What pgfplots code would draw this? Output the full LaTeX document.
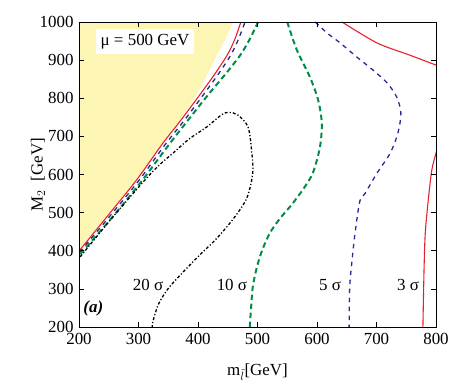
\documentclass[border=0pt]{standalone}
\usepackage{pgfplots}
\pgfplotsset{compat=1.18}
\usepackage{fontspec}
\setmainfont{Liberation Serif}
\definecolor{fillyel}{RGB}{252,245,180}
\definecolor{cred}{RGB}{232,32,45}
\definecolor{cblue}{RGB}{40,40,150}
\definecolor{cgreen}{RGB}{0,140,70}
\begin{document}
\begin{tikzpicture}
\begin{axis}[
  scale only axis,
  width=357bp, height=305bp,
  xmin=200, xmax=800, ymin=200, ymax=1000,
  xtick={200,300,...,800}, ytick={200,300,...,1000},
  tick align=inside, major tick length=5bp,
  axis on top,
  axis line style={line width=0.6pt},
  tick style={line width=0.6pt, black},
  /pgf/number format/assume math mode=true,
  /pgf/number format/1000 sep={},
  ticklabel style={font=\fontsize{17}{19}\selectfont},
  xticklabel style={yshift=-3bp},
  yticklabel style={xshift=-2bp},
  xlabel={m$_{\tilde{l}}$[GeV]},
  ylabel={M$_2$\ \ [GeV]},
  label style={font=\fontsize{17}{19}\selectfont},
  xlabel style={at={(axis description cs:0.5,0)}, anchor=center, yshift=-45bp},
  ylabel style={at={(axis description cs:0,0.5)}, anchor=center, yshift=41bp},
]
% excluded region
\addplot[draw=none, fill=fillyel] coordinates {(200,1000) (200,402) (250,497) (296,584) (338,678) (366,735) (398,809) (418,870) (432,913) (447,958) (459,1000) (200,1000)};

% 3 sigma (red solid)
\addplot[cred, line width=1.1pt, smooth, tension=0.5] coordinates {(200,399) (250,495) (297,586) (340,680) (370,740) (403,809) (428,863) (449,913) (462,955) (472,1000)};
\addplot[cred, line width=1.1pt, smooth, tension=0.5] coordinates {(642,1000) (701,945) (756,913) (805,884)};
\addplot[cred, line width=1.1pt, smooth, tension=0.5] coordinates {(806,690) (800,656) (793,612) (787,533) (782,447) (780,357) (778,200)};

% 5 sigma (blue dashed)
\addplot[cblue, line width=1.3pt, dash pattern=on 4.5bp off 4.5bp, smooth, tension=0.5] coordinates {(201,396) (253,493) (301,585) (345,679) (376,740) (409,809) (434,863) (455,913) (468,955) (479,1000)};
\addplot[cblue, line width=1.3pt, dash pattern=on 4.5bp off 4.5bp, smooth, tension=0.5] coordinates {(597,1000) (617,971) (639,945) (667,908) (694,874) (718,840) (734,803) (741,761) (736,709) (723,656) (701,604) (681,551) (672,530) (664,447) (659,376) (655,305) (654,200)};

% 10 sigma (green dashed)
\addplot[cgreen, line width=2pt, dash pattern=on 5.5bp off 3.5bp, smooth, tension=0.5] coordinates {(202,391) (256,488) (306,584) (350,676) (382,740) (417,809) (446,863) (471,913) (487,955) (501,1000)};
\addplot[cgreen, line width=2pt, dash pattern=on 5.5bp off 3.5bp, smooth, tension=0.5] coordinates {(550,1000) (566,927) (588,856) (602,795) (608,735) (605,672) (593,604) (577,562) (558,522) (538,485) (521,447) (508,402) (499,357) (492,305) (489,245) (487,200)};

% 20 sigma (black dash-dot)
\addplot[black, line width=1.3pt, dash pattern=on 3bp off 2bp on 1.2bp off 2bp, smooth, tension=0.5] coordinates {(202,384) (255,485) (311,586) (335,625) (358,656) (385,693) (415,725) (440,757) (452,763) (467,756) (484,725) (490,664) (492,604) (482,538) (459,483) (430,430) (403,389) (370,336) (348,297) (333,258) (324,213) (323,200)};

\node[fill=white, inner xsep=5bp, inner ysep=5bp, font=\fontsize{17}{19}\selectfont] at (axis cs:311,948) {μ = 500 GeV};
\node[font=\fontsize{17}{19}\selectfont] at (axis cs:316,310) {20 σ};
\node[font=\fontsize{17}{19}\selectfont] at (axis cs:457,310) {10 σ};
\node[font=\fontsize{17}{19}\selectfont] at (axis cs:622,310) {5 σ};
\node[font=\fontsize{17}{19}\selectfont] at (axis cs:753,310) {3 σ};
\node[font=\fontsize{17}{19}\selectfont\bfseries\itshape] at (axis cs:224,250) {(a)};
\end{axis}
\path[use as bounding box] ([shift={(-79bp,-55bp)}]current axis.south west) rectangle ([shift={(27bp,22bp)}]current axis.north east);
\end{tikzpicture}
\end{document}
